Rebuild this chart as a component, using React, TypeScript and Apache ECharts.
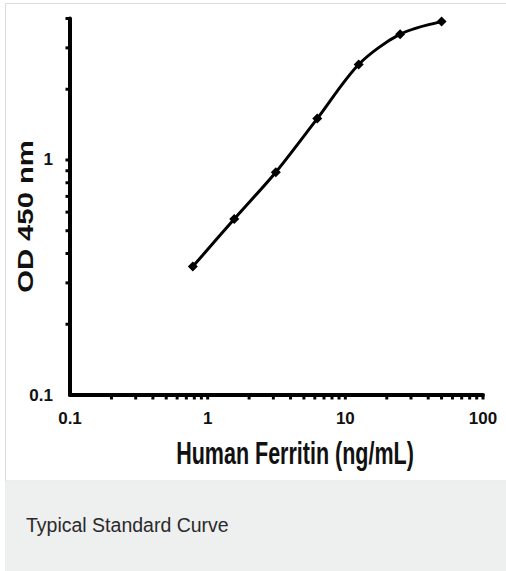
import React, { useEffect, useRef } from "react";
import * as echarts from "echarts";

// Standard curve data
const concentrations = [0.78, 1.56, 3.125, 6.25, 12.5, 25, 50];
const odValues = [0.352, 0.561, 0.887, 1.5, 2.55, 3.43, 3.88];

// Tick marks and labels
const xTickValues = [0.2, 0.3, 0.4, 0.5, 0.6, 0.7, 0.8, 0.9, 1, 2, 3, 4, 5, 6, 7, 8, 9, 10, 20, 30, 40, 50, 60, 70, 80, 90, 100];
const yTickValues = [0.2, 0.3, 0.4, 0.5, 0.6, 0.7, 0.8, 0.9, 1, 2, 3, 4];
const xLabelValues = [0.1, 1, 10, 100];
const yLabelValues = [0.1, 1];

const xAxisTitle = "Human Ferritin (ng/mL)";
const yAxisTitle = "OD 450 nm";
const caption = "Typical Standard Curve";

const SANS = "'Liberation Sans', Arial, Helvetica, sans-serif";

function makeFormatter(labels: number[]) {
  return (v: number) => {
    for (const l of labels) {
      if (Math.abs(v - l) / l < 1e-6) return String(l);
    }
    return "";
  };
}

export default function App() {
  const ref = useRef<HTMLDivElement>(null);

  useEffect(() => {
    if (!ref.current) return;
    const chart = echarts.init(ref.current, null, { renderer: "svg" });

    const tickData = [
      ...xTickValues.map((v) => [v, 0.1, 0]),
      ...yTickValues.map((v) => [0.1, v, 1]),
    ];

    const axisCommon = {
      type: "log" as const,
      logBase: 10,
      axisLine: { show: true, lineStyle: { color: "#000", width: 4 } },
      axisTick: { show: false },
      minorTick: { show: false },
      splitLine: { show: false },
    };

    chart.setOption({
      animation: false,
      backgroundColor: "#ffffff",
      grid: { left: 70, right: 23, top: 18.5, bottom: 176, containLabel: false },
      xAxis: {
        ...axisCommon,
        min: 0.1,
        max: 100,
        axisLabel: {
          margin: 15,
          fontSize: 17,
          fontWeight: "bold",
          fontFamily: SANS,
          color: "#111",
          formatter: makeFormatter(xLabelValues),
        },
      },
      yAxis: {
        ...axisCommon,
        min: 0.1,
        max: 4,
        axisLabel: {
          margin: 17,
          fontSize: 17,
          fontWeight: "bold",
          fontFamily: SANS,
          color: "#111",
          formatter: makeFormatter(yLabelValues),
        },
      },
      series: [
        {
          type: "custom",
          name: "ticks",
          silent: true,
          clip: false,
          data: tickData,
          renderItem: (_params: any, api: any) => {
            const p = api.coord([api.value(0), api.value(1)]);
            const isX = api.value(2) === 0;
            return {
              type: "rect",
              shape: isX
                ? { x: p[0] - 1.5, y: p[1] + 1, width: 3, height: 3.5 }
                : { x: p[0] - 4.5, y: p[1] - 1.5, width: 3.5, height: 3 },
              style: { fill: "#000" },
            };
          },
          z: 1,
        },
        {
          type: "line",
          name: "OD 450 nm",
          data: concentrations.map((c, i) => [c, odValues[i]]),
          smooth: 0.3,
          symbol: "diamond",
          symbolSize: 10,
          showAllSymbol: true,
          lineStyle: { color: "#000", width: 3 },
          itemStyle: { color: "#000" },
          z: 3,
        },
      ],
      graphic: [
        {
          type: "rect",
          z: -10,
          silent: true,
          shape: { x: 5.5, y: 3.5, width: 540, height: 477.5 },
          style: { fill: "#ffffff", stroke: "#dcdcdc", lineWidth: 1 },
        },
        {
          type: "rect",
          z: -10,
          silent: true,
          shape: { x: 5, y: 481.5, width: 540, height: 100 },
          style: { fill: "#eeefef" },
        },
        {
          type: "text",
          x: 295,
          y: 453.5,
          scaleY: 1.42,
          silent: true,
          style: {
            x: 0,
            y: 0,
            text: xAxisTitle,
            align: "center",
            verticalAlign: "middle",
            fill: "#111",
            font: `bold 21.5px ${SANS}`,
          },
        },
        {
          type: "text",
          x: 25,
          y: 216.5,
          rotation: Math.PI / 2,
          scaleX: 1.36,
          silent: true,
          style: {
            x: 0,
            y: 0,
            text: yAxisTitle,
            align: "center",
            verticalAlign: "middle",
            fill: "#111",
            font: `bold 21.5px ${SANS}`,
          },
        },
        {
          type: "text",
          x: 26,
          y: 524.5,
          silent: true,
          style: {
            x: 0,
            y: 0,
            text: caption,
            align: "left",
            verticalAlign: "middle",
            fill: "#2a2a2a",
            font: `19.5px ${SANS}`,
          },
        },
      ],
    });

    return () => chart.dispose();
  }, []);

  return (
    <div
      ref={ref}
      style={{ position: "fixed", left: 0, top: 0, width: 506, height: 571 }}
    />
  );
}
